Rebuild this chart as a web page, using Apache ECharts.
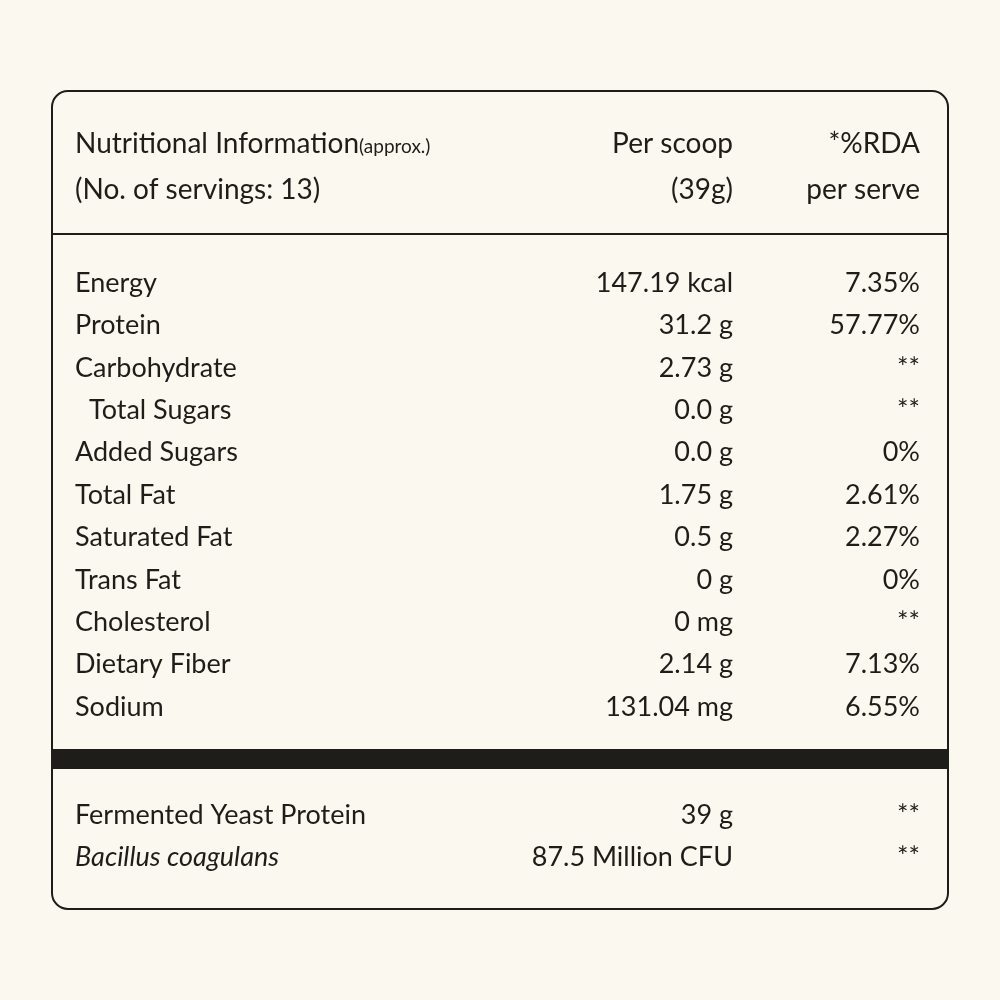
<!DOCTYPE html>
<html lang="en">
<head>
    <meta charset="UTF-8">
    <script src="https://cdn.jsdelivr.net/npm/echarts@6/dist/echarts.min.js"></script>
    <style>
        body, html { margin: 0; height: 100%; background: #fbf8ef; }
        #main { width: 1000px; height: 1000px; }
    </style>
</head>
<body>
<div id="main"></div>
<script>
    // table data
    const nutrients = ['Energy', 'Protein', 'Carbohydrate', '  Total Sugars', 'Added Sugars', 'Total Fat',
        'Saturated Fat', 'Trans Fat', 'Cholesterol', 'Dietary Fiber', 'Sodium'];
    const perScoop = ['147.19 kcal', '31.2 g', '2.73 g', '0.0 g', '0.0 g', '1.75 g', '0.5 g', '0 g', '0 mg', '2.14 g', '131.04 mg'];
    const rda = ['7.35%', '57.77%', '**', '**', '0%', '2.61%', '2.27%', '0%', '**', '7.13%', '6.55%'];
    const extras = ['Fermented Yeast Protein', 'Bacillus coagulans'];
    const extrasScoop = ['39 g', '87.5 Million CFU'];
    const extrasRda = ['**', '**'];

    const chart = echarts.init(document.getElementById('main'));
    const ink = '#1f1d1a';
    const font = 'Lato';
    const g = [];

    g.push({type: 'rect', shape: {x: 52, y: 91, width: 896, height: 818, r: 16},
        style: {fill: 'none', stroke: ink, lineWidth: 2}});
    g.push({type: 'line', shape: {x1: 52, y1: 234, x2: 948, y2: 234}, style: {stroke: ink, lineWidth: 2}});
    g.push({type: 'rect', shape: {x: 52, y: 749, width: 896, height: 20}, style: {fill: ink}});

    function txt(x, y, text, align, extra) {
        g.push({type: 'text', x: x, y: y, style: Object.assign({
            text: text, fill: ink, font: '27px ' + font, textAlign: align, textVerticalAlign: 'middle'
        }, extra || {})});
    }

    // header
    g.push({type: 'text', x: 75, y: 144, style: {
        text: '{a|Nutritional Information}{b|(approx.)}', textVerticalAlign: 'middle',
        rich: {a: {font: '28px ' + font, fill: ink}, b: {font: '19px ' + font, fill: ink, padding: [6, 0, 0, 0]}}
    }});
    txt(75, 190, '(No. of servings: 13)', 'left', {font: '28px ' + font});
    txt(733, 144, 'Per scoop', 'right', {font: '28px ' + font});
    txt(733, 190, '(39g)', 'right', {font: '28px ' + font});
    txt(920, 144, '*%RDA', 'right', {font: '28px ' + font});
    txt(920, 190, 'per serve', 'right', {font: '28px ' + font});

    nutrients.forEach((n, i) => {
        const y = 283 + i * 42.4;
        txt(n.startsWith('  ') ? 89 : 75, y, n.trim(), 'left');
        txt(733, y, perScoop[i], 'right');
        txt(920, y, rda[i], 'right');
    });

    extras.forEach((n, i) => {
        const y = 815 + i * 42;
        txt(75, y, n, 'left', i === 1 ? {font: 'italic 27px ' + font} : {});
        txt(733, y, extrasScoop[i], 'right');
        txt(920, y, extrasRda[i], 'right');
    });

    chart.setOption({backgroundColor: '#fbf8ef', graphic: g});
</script>
</body>
</html>
